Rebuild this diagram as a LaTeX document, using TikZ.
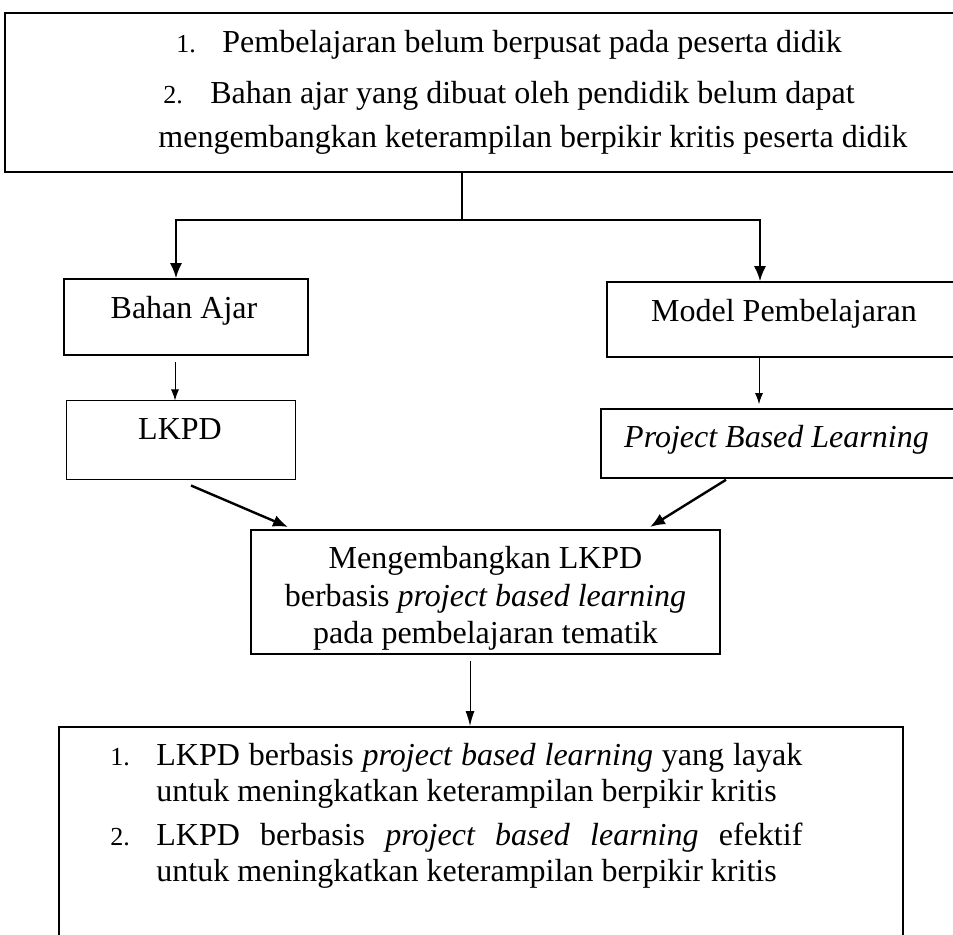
\documentclass[tikz,border=0pt]{standalone}
\usepackage{fontspec}
\setmainfont{Liberation Serif}
\usetikzlibrary{arrows.meta,positioning}

\newcommand{\nomor}[1]{{\fontsize{13}{13}\selectfont #1}}

\begin{document}
\begin{tikzpicture}[x=0.5pt,y=-0.5pt,
  kotak/.style={draw,line width=0.8pt,inner sep=0pt},
  teks/.style={font=\fontsize{16}{18.5}\selectfont,inner sep=0pt},
  panah/.style={-{Latex[length=7.5pt,width=6pt]},line width=1pt},
  panah tebal/.style={-{Latex[length=7.5pt,width=6pt]},line width=1.2pt},
  panah tipis/.style={-{Latex[length=5.5pt,width=4pt]},line width=0.5pt}]
  \useasboundingbox (0,0) rectangle (953,935);
  \clip (0,0) rectangle (953,935);

  % masalah
  \node[kotak,line width=1pt,minimum width=477.5pt,minimum height=79.5pt] (masalah) at (482.5,92.5) {};
  \node[teks,anchor=north west,align=left,font=\fontsize{16}{22}\selectfont] (tMasalah) at (158,30)
    {\hspace*{9pt}\makebox[23pt][l]{\nomor{1.}}Pembelajaran belum berpusat pada peserta didik\\[3.5pt]
     \hspace*{2.5pt}\makebox[23.5pt][l]{\nomor{2.}}Bahan ajar yang dibuat oleh pendidik belum dapat\\
     mengembangkan keterampilan berpikir kritis peserta didik};

  % cabang kiri dan kanan
  \node[kotak,minimum width=122pt,minimum height=38pt] (bahan) at (186,317) {};
  \node[teks,anchor=base] (tBahan) at (184,319) {Bahan Ajar};
  \node[kotak,minimum width=176.5pt,minimum height=37.5pt] (model) at (783.5,319.5) {};
  \node[teks,anchor=base] (tModel) at (784,322) {Model Pembelajaran};

  \node[kotak,line width=0.5pt,minimum width=114.5pt,minimum height=39.5pt] (lkpd) at (180.5,440.5) {};
  \node[teks,anchor=base] (tLkpd) at (180,440) {LKPD};
  \node[kotak,minimum width=177pt,minimum height=34.5pt] (pbl) at (778,443.5) {};
  \node[teks,anchor=base] (tPbl) at (776.5,448) {\textit{Project Based Learning}};

  % pengembangan
  \node[kotak,line width=1pt,minimum width=234.5pt,minimum height=62pt] (tengah) at (485.5,592) {};
  \node[teks,anchor=north,align=center,font=\fontsize{16}{18.75}\selectfont] (tTengah) at (485.5,546)
    {Mengembangkan LKPD\\ berbasis \textit{project based learning}\\ pada pembelajaran tematik};

  % hasil
  \node[kotak,line width=1pt,minimum width=422pt,minimum height=116.5pt] (hasil) at (481,843.5) {};
  \node[teks,anchor=north west,text width=346pt,align=justify,font=\fontsize{16}{18}\selectfont] (tHasil) at (110,743)
    {\hangindent=23pt\hangafter=1\noindent\makebox[23pt][l]{\nomor{1.}}LKPD berbasis \textit{project based learning} yang layak\linebreak
     untuk meningkatkan keterampilan berpikir kritis\par\vspace{4pt}
     \hangindent=23pt\hangafter=1\noindent\makebox[23pt][l]{\nomor{2.}}LKPD berbasis \textit{project based learning} efektif\linebreak
     untuk meningkatkan keterampilan berpikir kritis\par};

  % panah
  \coordinate (cabang) at (462,220);
  \draw[line width=1pt] (masalah.south -| cabang) -- (cabang);
  \draw[panah] (cabang) -| ([xshift=-5pt]bahan.north);
  \draw[panah] (cabang) -| ([xshift=-11.75pt]model.north);
  \draw[panah tipis,shorten <=3pt] ([xshift=-5.5pt]bahan.south) -- ([xshift=-5.5pt]bahan.south |- lkpd.north);
  \draw[panah tipis,shorten >=2pt] ([xshift=-12.25pt]model.south) -- ([xshift=-12.25pt]model.south |- pbl.north);
  \draw[panah tebal] ([xshift=5.25pt,yshift=-2.5pt]lkpd.south) -- ([xshift=19pt,yshift=1pt]tengah.north west);
  \draw[panah tebal] ([xshift=-26pt,yshift=-0.5pt]pbl.south) -- ([xshift=-35.5pt,yshift=1pt]tengah.north east);
  \draw[panah tipis,shorten <=3pt,-{Latex[length=7.5pt,width=4.5pt]}] ([xshift=-7.75pt]tengah.south) -- ([xshift=-7.75pt]tengah.south |- hasil.north);
\end{tikzpicture}
\end{document}
